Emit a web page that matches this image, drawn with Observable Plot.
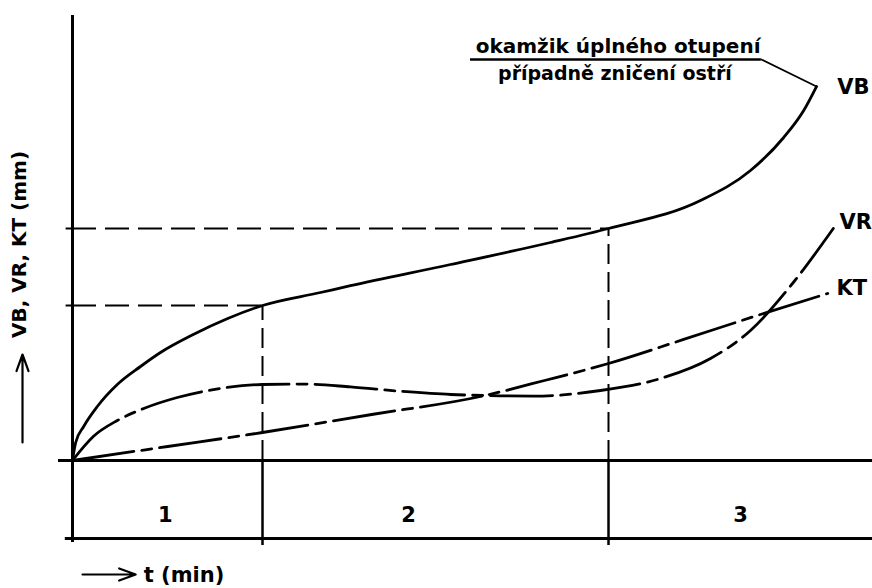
<!DOCTYPE html>
<html>
<head>
<meta charset="utf-8">
<script src="https://cdn.jsdelivr.net/npm/d3@7"></script>
<script src="https://cdn.jsdelivr.net/npm/@observablehq/plot@0.6"></script>
<style>
  html, body { margin: 0; padding: 0; background: #fff; }
  #chart svg { display: block; }
</style>
</head>
<body>
<div id="chart"></div>
<script>
// ---- data (t in relative minutes, wear in relative mm) ----
const vbT = [0, 0.4, 1.4, 3.1, 5.6, 8.5, 11, 15.1, 19.4, 23.75, 31, 34.75, 47.25, 59.75, 67, 78.5, 84.75, 88.9, 91.4, 93];
const vbV = [0, 4.5, 8.5, 13.5, 19, 23.5, 27, 31.5, 35.5, 38.75, 42, 43.7, 49, 54.5, 58, 65, 72.5, 80.75, 87.5, 93.5];

const vrT = [0, 2.6, 5.6, 8.9, 13.1, 17.25, 23.75, 29.1, 34.75, 41, 47.25, 57.6, 66, 73.5, 79.75, 84.75, 90.1, 95.1];
const vrV = [0, 6, 10, 13, 15.75, 17.6, 19, 19.1, 18.4, 17.3, 16.5, 16.1, 17.5, 20.5, 25.5, 32.5, 44.5, 58];

const ktT = [0, 11.9, 23.75, 37.4, 51, 59, 67, 76.3, 85.6, 94.4];
const ktV = [0, 3.5, 7, 11.5, 16, 20, 24.25, 30.2, 36.25, 41.75];

const zoneBounds = [23.75, 67];            // ends of zones 1 and 2
const zoneLabels = ["1", "2", "3"];
const zoneLabelT = [11.6, 42, 83.5];

const seriesNames = ["VB", "VR", "KT"];
const yTitle = "VB, VR, KT (mm)";
const xTitle = "t (min)";
const noteLine1 = "okamžik úplného otupení";
const noteLine2 = "případně zničení ostří";

// ---- derived tables ----
const rows = (ts, vs) => ts.map((t, i) => ({t, v: vs[i]}));
const vb = rows(vbT, vbV), vr = rows(vrT, vrV), kt = rows(ktT, ktV);
const vbAt = t => vbV[vbT.indexOf(t)];
const guides = zoneBounds.map(t => ({t, v: vbAt(t)}));
const zones = zoneLabels.map((s, i) => ({t: zoneLabelT[i], s}));
const vbEnd = vb[vb.length - 1], vrEnd = vr[vr.length - 1], ktEnd = kt[kt.length - 1];
const ends = [
  {name: seriesNames[0], t: vbEnd.t + 4.6, v: vbEnd.v - 0.2},
  {name: seriesNames[1], t: vrEnd.t + 2.8, v: vrEnd.v + 1.5},
  {name: seriesNames[2], t: ktEnd.t + 3.0, v: ktEnd.v + 1.2}
];

const FONT = "'DejaVu Sans', sans-serif";
const bandBottom = -19.5;

const chart = Plot.plot({
  width: 872,
  height: 588,
  marginTop: 0, marginRight: 0, marginBottom: 0, marginLeft: 0,
  x: {domain: [0, 100], range: [72, 872], axis: null},
  y: {domain: [0, 100], range: [460, 60], axis: null},
  style: {background: "#fff", fontFamily: FONT, color: "#000"},
  marks: [
    // dashed guide lines
    Plot.ruleY(guides, {y: "v", x1: () => 0, x2: "t", stroke: "#000", strokeWidth: 2, strokeDasharray: "24,9"}),
    Plot.ruleX(guides, {x: "t", y1: () => 0, y2: "v", stroke: "#000", strokeWidth: 2, strokeDasharray: "20,8"}),
    // axes
    Plot.ruleX([0], {y1: bandBottom - 1, y2: 111.25, stroke: "#000", strokeWidth: 3}),
    Plot.ruleY([0], {x1: -1.75, x2: 100, stroke: "#000", strokeWidth: 3}),
    Plot.ruleY([bandBottom], {x1: -0.9, x2: 100, stroke: "#000", strokeWidth: 3}),
    Plot.ruleX(zoneBounds, {y1: 0, y2: bandBottom - 1.75, stroke: "#000", strokeWidth: 2.5}),
    Plot.ruleY(guides, {y: "v", x1: () => -0.8, x2: () => 0, stroke: "#000", strokeWidth: 2}),
    // curves
    Plot.line(vb, {x: "t", y: "v", curve: "monotone-x", stroke: "#000", strokeWidth: 2.8}),
    Plot.line(vr, {x: "t", y: "v", curve: "monotone-x", stroke: "#000", strokeWidth: 2.8, strokeDasharray: "62,8,10,8"}),
    Plot.line(kt, {x: "t", y: "v", curve: "monotone-x", stroke: "#000", strokeWidth: 2.8, strokeDasharray: "62,8,10,8"}),
    // annotation
    Plot.ruleY([100.25], {x1: () => 49.75, x2: () => 86.1, stroke: "#000", strokeWidth: 2.5}),
    Plot.line([{t: 86.1, v: 100.25}, {t: vbEnd.t, v: vbEnd.v}], {x: "t", y: "v", stroke: "#000", strokeWidth: 1.8}),
    Plot.text([noteLine1], {x: () => 68.2, y: () => 103.6, text: d => d, fontSize: 20, fontWeight: "bold", fill: "#000"}),
    Plot.text([noteLine2], {x: () => 67.8, y: () => 96.6, text: d => d, fontSize: 19, fontWeight: "bold", fill: "#000"}),
    // series labels
    Plot.text(ends, {x: "t", y: "v", text: "name", fontSize: 21, fontWeight: "bold", fill: "#000"}),
    // zone labels
    Plot.text(zones, {x: "t", y: () => -13.75, text: "s", fontSize: 21, fontWeight: "bold", fill: "#000"}),
    // axis titles with arrows
    Plot.arrow([{x1: 1.25, x2: 7.9, y: -28.5}], {x1: "x1", x2: "x2", y1: "y", y2: "y", stroke: "#000", strokeWidth: 2.2, headLength: 12, headAngle: 40}),
    Plot.text([xTitle], {x: () => 8.9, y: () => -28.8, text: d => d, textAnchor: "start", fontSize: 21, fontWeight: "bold", fill: "#000"}),
    Plot.arrow([{x: -6.25, y1: 4.5, y2: 26.5}], {x1: "x", x2: "x", y1: "y1", y2: "y2", stroke: "#000", strokeWidth: 2.2, headLength: 12, headAngle: 40}),
    Plot.text([yTitle], {x: () => -6.6, y: () => 54, text: d => d, rotate: -90, fontSize: 20, fontWeight: "bold", fill: "#000"})
  ]
});
document.getElementById("chart").appendChild(chart);
</script>
</body>
</html>
